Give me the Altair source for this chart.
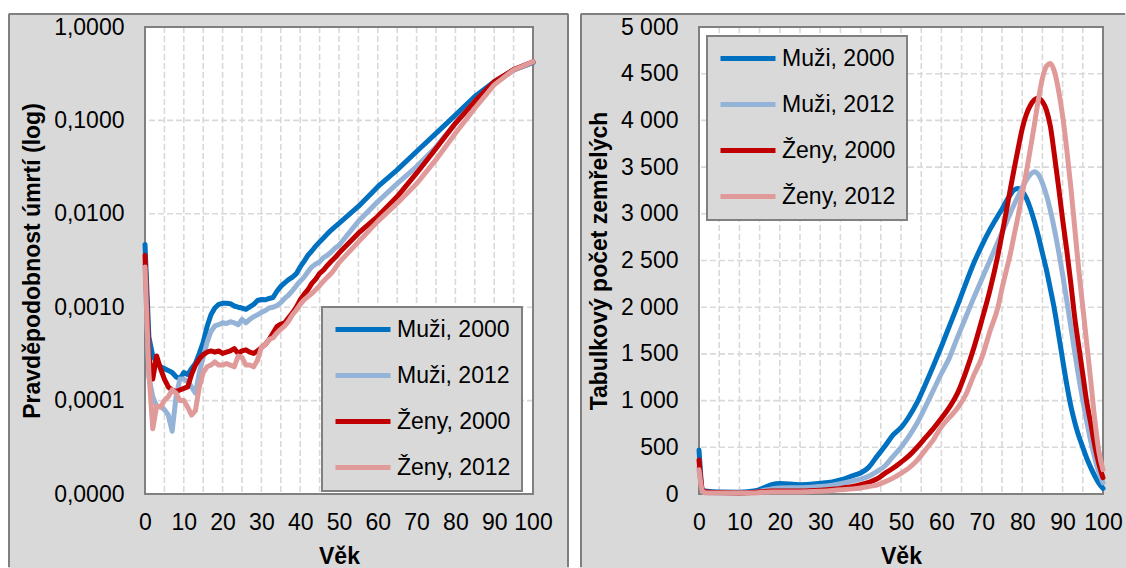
import altair as alt
import pandas as pd

# ---------------- data ----------------
SERIES = ["Muži, 2000", "Muži, 2012", "Ženy, 2000", "Ženy, 2012"]
COLORS = ["#0070c0", "#95b3d7", "#c00000", "#e09a9a"]

# probability of death q(x), log scale panel
q_age = list(range(0, 51)) + [55, 60, 65, 70, 75, 80, 85, 90, 95, 100]

q_muzi_2000 = [
    0.0047, 0.00048, 0.00030, 0.00026, 0.00023, 0.00022, 0.00021, 0.00020, 0.00018, 0.00017,
    0.00020, 0.00019, 0.00022, 0.00025, 0.00032, 0.00042, 0.00062, 0.00083, 0.00098, 0.00107,
    0.00110, 0.00110, 0.00109, 0.00103, 0.00100, 0.00098, 0.00095, 0.00101, 0.00107, 0.00118,
    0.00121, 0.00120, 0.00124, 0.00127, 0.00148, 0.00167, 0.00182, 0.00197, 0.00210, 0.00228,
    0.00270, 0.00310, 0.00360, 0.00400, 0.00450, 0.00500, 0.00550, 0.00610, 0.00670, 0.00730,
    0.00790,
    0.0120, 0.0195, 0.0295, 0.0465, 0.0725, 0.114, 0.180, 0.260, 0.347, 0.415,
]
q_muzi_2012 = [
    0.0029, 0.00018, 0.00011, 0.000087, 0.000087, 0.00008, 0.00007, 0.000047, 0.00011, 0.00017,
    0.00017, 0.00016, 0.00014, 0.00012, 0.00020, 0.00029, 0.00042, 0.00055, 0.00063, 0.00065,
    0.00068, 0.00067, 0.00070, 0.00068, 0.00065, 0.00074, 0.00068, 0.00074, 0.00079, 0.00083,
    0.00088, 0.00092, 0.00098, 0.00100, 0.00104, 0.00112, 0.00124, 0.00135, 0.00150, 0.00170,
    0.00190, 0.00210, 0.00240, 0.00270, 0.00290, 0.00305, 0.00340, 0.00360, 0.00390, 0.00430,
    0.00460,
    0.0083, 0.0135, 0.0210, 0.0320, 0.052, 0.093, 0.160, 0.250, 0.345, 0.420,
]
q_zeny_2000 = [
    0.0036, 0.00030, 0.00017, 0.00030, 0.00022, 0.00017, 0.00014, 0.00013, 0.000125, 0.00013,
    0.000135, 0.00014, 0.00019, 0.00024, 0.00028, 0.00031, 0.00033, 0.00034, 0.00033, 0.00034,
    0.00032, 0.00033, 0.00034, 0.00036, 0.00032, 0.00034, 0.00035, 0.00033, 0.00032, 0.00034,
    0.00037, 0.00040, 0.00045, 0.00053, 0.00062, 0.00066, 0.00068, 0.00077, 0.00087, 0.00100,
    0.00120, 0.00137, 0.00154, 0.00180, 0.00200, 0.00230, 0.00250, 0.00280, 0.00310, 0.00340,
    0.00380,
    0.0062, 0.0094, 0.0153, 0.0272, 0.050, 0.093, 0.160, 0.260, 0.350, 0.425,
]
q_zeny_2012 = [
    0.0027, 0.00020, 0.00005, 0.000087, 0.000085, 0.00010, 0.00011, 0.00013, 0.00012, 0.00010,
    0.00010, 0.000085, 0.00007, 0.000078, 0.00014, 0.00020, 0.00023, 0.00024, 0.00026, 0.00024,
    0.00024, 0.00025, 0.00024, 0.00023, 0.00030, 0.00029, 0.00024, 0.00024, 0.00023, 0.00027,
    0.00037, 0.00040, 0.00045, 0.00047, 0.00053, 0.00058, 0.00063, 0.00071, 0.00083, 0.00093,
    0.00107, 0.00120, 0.00130, 0.00140, 0.00154, 0.00170, 0.00190, 0.00210, 0.00230, 0.00260,
    0.00300,
    0.0050, 0.0083, 0.0130, 0.0210, 0.038, 0.073, 0.135, 0.240, 0.347, 0.425,
]

# life-table deaths d(x)
d_age = ([0, 1, 2, 5, 10, 14, 16, 18, 20, 25, 30, 33, 35, 38, 40, 42, 44, 46, 48]
         + list(range(50, 75, 2)) + list(range(75, 101)))

d_muzi_2000 = [
    470, 40, 30, 22, 20, 35, 65, 100, 112, 100, 115, 130, 150, 195, 225, 285, 400, 510, 630,
    710, 830, 980, 1170, 1370, 1580, 1800, 2020, 2250, 2470, 2660, 2830, 2980,
    3050, 3130, 3200, 3255, 3270, 3240, 3170, 3060, 2920, 2760, 2580, 2400, 2190, 1970, 1710,
    1440, 1180, 950, 770, 620, 500, 380, 280, 190, 115, 60,
]
d_muzi_2012 = [
    285, 22, 15, 12, 12, 20, 38, 55, 65, 68, 80, 95, 110, 140, 160, 190, 240, 300, 400,
    500, 620, 760, 930, 1110, 1290, 1460, 1680, 1890, 2100, 2300, 2500, 2700,
    2800, 2900, 3000, 3100, 3190, 3280, 3360, 3420, 3450, 3420, 3330, 3200, 3030, 2830, 2600,
    2350, 2080, 1800, 1520, 1250, 1000, 770, 560, 380, 230, 120,
]
d_zeny_2000 = [
    365, 30, 22, 15, 12, 18, 28, 32, 32, 32, 40, 50, 60, 80, 100, 125, 160, 220, 275,
    340, 410, 500, 600, 700, 810, 930, 1080, 1300, 1560, 1860, 2180, 2560,
    2780, 3010, 3250, 3480, 3700, 3910, 4060, 4160, 4220, 4240, 4200, 4110, 3930, 3620, 3290,
    2940, 2620, 2270, 1890, 1580, 1280, 980, 750, 510, 320, 175,
]
d_zeny_2012 = [
    260, 20, 12, 10, 10, 12, 18, 22, 22, 22, 30, 38, 45, 55, 65, 80, 95, 130, 170,
    220, 280, 360, 470, 580, 720, 820, 920, 1060, 1270, 1460, 1740, 2000,
    2200, 2380, 2560, 2770, 2980, 3210, 3440, 3690, 3950, 4220, 4450, 4580, 4610, 4520, 4320,
    4050, 3700, 3300, 2850, 2400, 2000, 1600, 1200, 780, 450, 260,
]

# axis ticks and gridlines
x_ticks = list(range(0, 101, 10))
x_grid = list(range(5, 100, 5))
q_ticks = [0.00001, 0.0001, 0.001, 0.01, 0.1, 1.0]
q_grid = [0.0001, 0.001, 0.01, 0.1]
d_ticks = list(range(0, 5001, 500))
d_grid = list(range(500, 5000, 500))


def long_frame(ages, columns):
    rows = []
    for name, values in zip(SERIES, columns):
        for a, v in zip(ages, values):
            rows.append({"age": a, "val": v, "series": name})
    return pd.DataFrame(rows)


q_df = long_frame(q_age, [q_muzi_2000, q_muzi_2012, q_zeny_2000, q_zeny_2012])
d_df = long_frame(d_age, [d_muzi_2000, d_muzi_2012, d_zeny_2000, d_zeny_2012])

# ---------------- styling ----------------
FONT = "Liberation Sans"
PANEL_FILL = "#d9d9d9"
EDGE = "#7f7f7f"
GRID = "#d9d9d9"
PLOT_H = 467
LINE_W = 5

AXIS_STYLE = dict(
    labelFont=FONT, labelFontSize=23, labelColor="black",
    titleFont=FONT, titleFontSize=23, titleFontWeight="bold", titleColor="black",
    ticks=False, domain=False, grid=False, zindex=2, labelFlush=False,
)


def panel(df, w, ys, y_values, y_grid, y_label_expr, y_title, interp,
          box_left, box_right, right_edge, legend_x, legend_y):
    one = pd.DataFrame({"k": [0]})
    x_scale = alt.Scale(domain=[0, 100], nice=False, zero=False)
    x_axis = alt.Axis(values=x_ticks, title="Věk", labelPadding=17, titlePadding=11, **AXIS_STYLE)
    y_axis = alt.Axis(values=y_values, title=y_title, labelExpr=y_label_expr,
                      labelPadding=21, titlePadding=9, **AXIS_STYLE)
    xenc = alt.X("age:Q", scale=x_scale, axis=x_axis)
    yenc = alt.Y("val:Q", scale=ys, axis=y_axis)

    top = -14
    bottom = PLOT_H + 74

    # grey chart area with its outline
    area = alt.Chart(one).mark_rect(color=PANEL_FILL).encode(
        x=alt.value(box_left), x2=alt.value(box_right),
        y=alt.value(top), y2=alt.value(bottom))
    edge_top = alt.Chart(one).mark_rule(color=EDGE, strokeWidth=2).encode(
        x=alt.value(box_left + 1), x2=alt.value(box_right - 1), y=alt.value(top + 1))
    edge_left = alt.Chart(one).mark_rule(color=EDGE, strokeWidth=2).encode(
        x=alt.value(box_left + 1), y=alt.value(top + 1), y2=alt.value(bottom - 1))
    layers = [area, edge_top, edge_left]
    if right_edge:
        edge_right = alt.Chart(one).mark_rule(color=EDGE, strokeWidth=2).encode(
            x=alt.value(box_right - 1), y=alt.value(top + 1), y2=alt.value(bottom - 1))
        layers.append(edge_right)

    # white plot area
    plot_bg = alt.Chart(one).mark_rect(color="white").encode(
        x=alt.value(0), x2=alt.value(w), y=alt.value(0), y2=alt.value(PLOT_H))
    layers.append(plot_bg)

    vgrid = alt.Chart(pd.DataFrame({"age": x_grid})).mark_rule(
        color=GRID, strokeWidth=1.6, strokeDash=[6, 3]).encode(x=xenc)
    hgrid = alt.Chart(pd.DataFrame({"val": y_grid})).mark_rule(
        color=GRID, strokeWidth=1.6, strokeDash=[6, 3]).encode(y=yenc)
    frame = alt.Chart(one).mark_rect(fillOpacity=0, stroke="#808080", strokeWidth=2).encode(
        x=alt.value(0), x2=alt.value(w), y=alt.value(0), y2=alt.value(PLOT_H))
    layers += [vgrid, hgrid, frame]

    lines = alt.Chart(df).mark_line(
        strokeWidth=LINE_W, interpolate=interp, strokeJoin="round", strokeCap="round"
    ).encode(
        x=xenc,
        y=yenc,
        color=alt.Color(
            "series:N",
            scale=alt.Scale(domain=SERIES, range=COLORS),
            legend=alt.Legend(
                orient="none", legendX=legend_x, legendY=legend_y, title=None,
                symbolType="M-1,0H5.11", symbolSize=324, symbolStrokeWidth=LINE_W,
                labelOffset=41, rowPadding=22, padding=11,
                labelFont=FONT, labelFontSize=23, labelColor="black", labelLimit=300,
                fillColor=PANEL_FILL, strokeColor="#808080",
            ),
        ),
    )
    layers.append(lines)
    return alt.layer(*layers).properties(width=w, height=PLOT_H)


left = panel(
    q_df, 388,
    alt.Scale(type="log", domain=[0.00001, 1], nice=False),
    q_ticks, q_grid,
    "replace(format(datum.value, '.4f'), '.', ',')",
    "Pravděpodobnost úmrtí (log)", "linear",
    box_left=-137, box_right=424, right_edge=True,
    legend_x=177, legend_y=280,
)

right = panel(
    d_df, 404,
    alt.Scale(domain=[0, 5000], nice=False),
    d_ticks, d_grid,
    "replace(format(datum.value, ',d'), ',', ' ')",
    "Tabulkový počet zemřelých", "monotone",
    box_left=-119, box_right=427, right_edge=False,
    legend_x=8, legend_y=9,
)

chart = (
    alt.hconcat(left, right, spacing=11)
    .resolve_scale(color="independent")
    .resolve_legend(color="independent")
    .properties(padding={"left": 8, "top": 13, "right": 0, "bottom": 0}, background="white")
    .configure_view(stroke=None)
    .configure_legend(strokeWidth=2)
)

chart.save("out.html", embed_options={"renderer": "svg", "actions": False})
